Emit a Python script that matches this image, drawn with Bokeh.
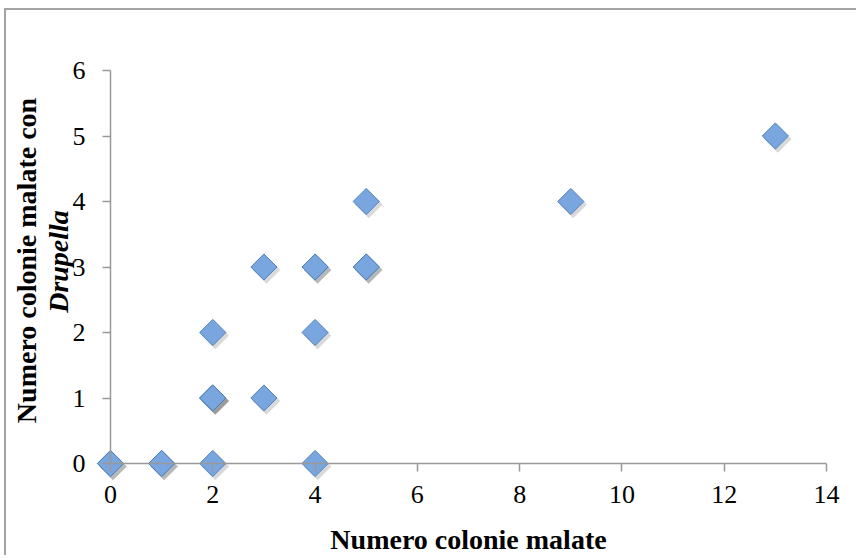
import numpy as np
from bokeh.plotting import figure
from bokeh.models import Range1d, FixedTicker, Label, ColumnDataSource
from bokeh.transform import dodge
from bokeh.embed import file_html
from bokeh.resources import INLINE

# ---- data ----
colonie_malate = [0, 0, 1, 1, 2, 4, 2, 2, 2, 3, 2, 3, 4, 4, 4, 5, 5, 5, 9, 13]
colonie_drupella = [0, 0, 0, 0, 0, 0, 1, 1, 1, 1, 2, 3, 3, 3, 2, 3, 3, 4, 4, 5]
x_ticks = [0, 2, 4, 6, 8, 10, 12, 14]
y_ticks = [0, 1, 2, 3, 4, 5, 6]
x_title = "Numero colonie malate"
y_title_1 = "Numero colonie malate con"
y_title_2 = "Drupella"

# ---- layout (page pixels) ----
ORG_X, ORG_Y = 6, 10           # canvas origin on the page (margin + 2px border)
W, H = 852, 547
X0_PAGE, XMAX_PAGE = 110, 826
Y0_PAGE, YMAX_PAGE = 463, 70
X_MAX, Y_MAX = 14, 6
sx = (XMAX_PAGE - X0_PAGE) / X_MAX
sy = (Y0_PAGE - YMAX_PAGE) / Y_MAX


def px2x(px):
    return (px - X0_PAGE) / sx


def py2y(py):
    return (Y0_PAGE - py) / sy


p = figure(
    width=W, height=H, output_backend="svg", toolbar_location=None,
    title_location=None, min_border=0,
    x_range=Range1d(px2x(ORG_X), px2x(ORG_X + W)),
    y_range=Range1d(py2y(ORG_Y + H), py2y(ORG_Y)),
)
p.styles = {"margin-left": "4px", "margin-top": "8px",
            "border-top": "2px solid #a3a3a3", "border-left": "2px solid #a3a3a3"}
p.outline_line_color = None
p.grid.visible = False
p.background_fill_color = "white"
p.border_fill_color = "white"

p.xaxis.fixed_location = 0
p.yaxis.fixed_location = 0
p.xaxis.bounds = (0, X_MAX)
p.yaxis.bounds = (0, Y_MAX)
p.xaxis.ticker = FixedTicker(ticks=x_ticks)
p.yaxis.ticker = FixedTicker(ticks=y_ticks)
for ax in (p.xaxis, p.yaxis):
    ax.axis_line_color = "#999999"
    ax.axis_line_width = 1.5
    ax.major_tick_line_color = "#999999"
    ax.major_tick_line_width = 1.5
    ax.major_tick_out = 8
    ax.major_tick_in = 0
    ax.minor_tick_line_color = None
    ax.major_label_text_font = "Liberation Serif"
    ax.major_label_text_font_size = "26px"
    ax.major_label_text_color = "black"
p.xaxis.major_label_standoff = 14
p.yaxis.major_label_standoff = 17

src = ColumnDataSource(dict(x=colonie_malate, y=colonie_drupella))
# soft drop shadow
p.scatter(x=dodge("x", 2.5 / sx), y=dodge("y", -3.0 / sy), source=src,
          marker="square", angle=np.pi / 4, size=19.5,
          fill_color="black", fill_alpha=0.15, line_color=None)
p.scatter(x="x", y="y", source=src, marker="square", angle=np.pi / 4, size=18.5,
          fill_color="#79a6de", line_color="#4f81bd", line_width=1)

p.add_layout(Label(x=px2x(26), y=py2y(260), text=y_title_1, angle=np.pi / 2,
                   text_align="center", text_baseline="alphabetic",
                   text_font="Liberation Serif", text_font_style="bold",
                   text_font_size="28px", text_color="black"))
p.add_layout(Label(x=px2x(58), y=py2y(261), text=y_title_2, angle=np.pi / 2,
                   text_align="center", text_baseline="alphabetic",
                   text_font="Liberation Serif", text_font_style="bold italic",
                   text_font_size="28px", text_color="black"))
p.add_layout(Label(x=px2x(468), y=py2y(538.5), text=x_title,
                   text_align="center", text_baseline="alphabetic",
                   text_font="Liberation Serif", text_font_style="bold",
                   text_font_size="28px", text_color="black"))

open("out.html", "w").write(file_html(p, INLINE))
